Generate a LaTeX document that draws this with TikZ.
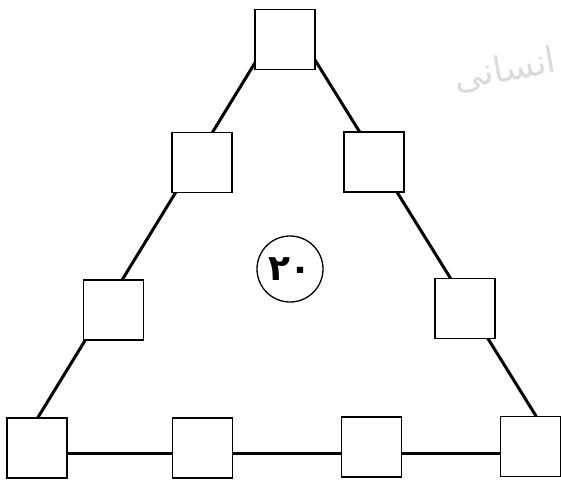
\documentclass[tikz,border=0pt]{standalone}
\usepackage{fontspec}
\newfontfamily\arabicfont[Script=Arabic]{DejaVu Sans}
\TeXXeTstate=1
\begin{document}
\begin{tikzpicture}[x=1pt,y=-1pt,
  box/.style={draw=black,fill=white,line width=1.6pt,minimum size=60pt,inner sep=0pt},
  side/.style={line width=3pt,line cap=round},
  num/.style={circle,draw=black,line width=1.3pt,minimum size=66pt,inner sep=0pt}]
\useasboundingbox (0,0) rectangle (561,479);
% watermark
\node[text=gray!28,rotate=10,inner sep=0pt,font=\arabicfont\fontsize{36}{40}\selectfont] (wm) at (505,70) {\beginR انسانی\endR};
% triangle side end points
\coordinate (a1) at (255.5,62);
\coordinate (a2) at (37.6,418);
\coordinate (b1) at (315,60);
\coordinate (b2) at (536,416);
\coordinate (c1) at (37,453);
\coordinate (c2) at (531,453);
\draw[side] (a1) -- (a2);
\draw[side] (b1) -- (b2);
\draw[side] (c1) -- (c2);
% squares
\node[box] (t)  at (285,39.5) {};
\node[box] (l1) at (202,162.5) {};
\node[box] (l2) at (113.5,310) {};
\node[box] (bl) at (37,448) {};
\node[box] (b2s) at (202.5,448) {};
\node[box] (b3s) at (371.5,447) {};
\node[box] (br) at (530.5,446.5) {};
\node[box] (r1) at (374,162) {};
\node[box] (r2) at (465,308.5) {};
% centre circle
\node[num,font=\arabicfont\bfseries\fontsize{36}{38}\selectfont] (c) at (290,269) {۲۰};
\end{tikzpicture}
\end{document}
